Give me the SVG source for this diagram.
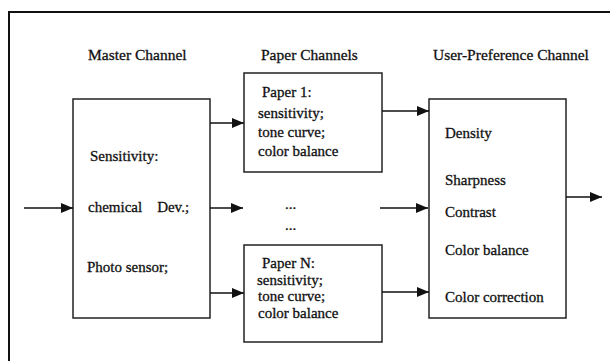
<svg xmlns="http://www.w3.org/2000/svg" width="610" height="361" viewBox="0 0 610 361">
  <defs>
    <marker id="arrow" viewBox="0 0 12 10" refX="12" refY="5" markerWidth="12" markerHeight="10" markerUnits="userSpaceOnUse" orient="auto">
      <path d="M0,0 L12,5 L0,10 z" fill="#111"/>
    </marker>
    <style>
      text { font-family: "Liberation Serif", "Times New Roman", serif; fill: #111; stroke: #111; stroke-width: 0.3; }
      .hdr { font-size: 15.5px; }
      .lbl { font-size: 15px; }
      .box { fill: #fff; stroke: #222; stroke-width: 1.5; }
      .wire { stroke: #111; stroke-width: 1.5; fill: none; marker-end: url(#arrow); }
      .frame { stroke: #111; stroke-width: 2; fill: none; }
    </style>
  </defs>

  <rect width="610" height="361" fill="#fff"/>

  <!-- outer frame (top and left edges) -->
  <path class="frame" d="M9,361 V12 H610"/>

  <!-- column headings -->
  <text class="hdr" x="88" y="60">Master Channel</text>
  <text class="hdr" x="261" y="60">Paper Channels</text>
  <text class="hdr" x="433" y="60">User-Preference Channel</text>

  <g id="master">
    <rect class="box" x="73" y="99" width="137" height="219"/>
    <text class="lbl" x="90" y="161">Sensitivity:</text>
    <text class="lbl" x="88" y="212" xml:space="preserve">chemical    Dev.;</text>
    <text class="lbl" x="87" y="272">Photo sensor;</text>
  </g>

  <g id="paper1">
    <rect class="box" x="244" y="73" width="138" height="99"/>
    <text class="lbl" x="262" y="97">Paper 1:</text>
    <text class="lbl" x="258" y="118">sensitivity;</text>
    <text class="lbl" x="258" y="137">tone curve;</text>
    <text class="lbl" x="258" y="156">color balance</text>
  </g>

  <g id="paper-dots">
    <text class="lbl" x="285" y="209">...</text>
    <text class="lbl" x="285" y="230">...</text>
  </g>

  <g id="paperN">
    <rect class="box" x="244" y="245" width="138" height="97"/>
    <text class="lbl" x="262" y="268">Paper N:</text>
    <text class="lbl" x="257" y="285">sensitivity;</text>
    <text class="lbl" x="258" y="301">tone curve;</text>
    <text class="lbl" x="258" y="318">color balance</text>
  </g>

  <g id="user">
    <rect class="box" x="429" y="99" width="137" height="219"/>
    <text class="lbl" x="445" y="138">Density</text>
    <text class="lbl" x="445" y="185">Sharpness</text>
    <text class="lbl" x="445" y="217">Contrast</text>
    <text class="lbl" x="445" y="255">Color balance</text>
    <text class="lbl" x="445" y="302">Color correction</text>
  </g>

  <g id="connectors">
    <path class="wire" d="M24,208 H73"/>
    <path class="wire" d="M210,123 H244"/>
    <path class="wire" d="M210,208 H243"/>
    <path class="wire" d="M210,293 H244"/>
    <path class="wire" d="M382,111 H429"/>
    <path class="wire" d="M380,208 H428"/>
    <path class="wire" d="M382,292 H429"/>
    <path class="wire" d="M566,197 H602"/>
  </g>
</svg>
